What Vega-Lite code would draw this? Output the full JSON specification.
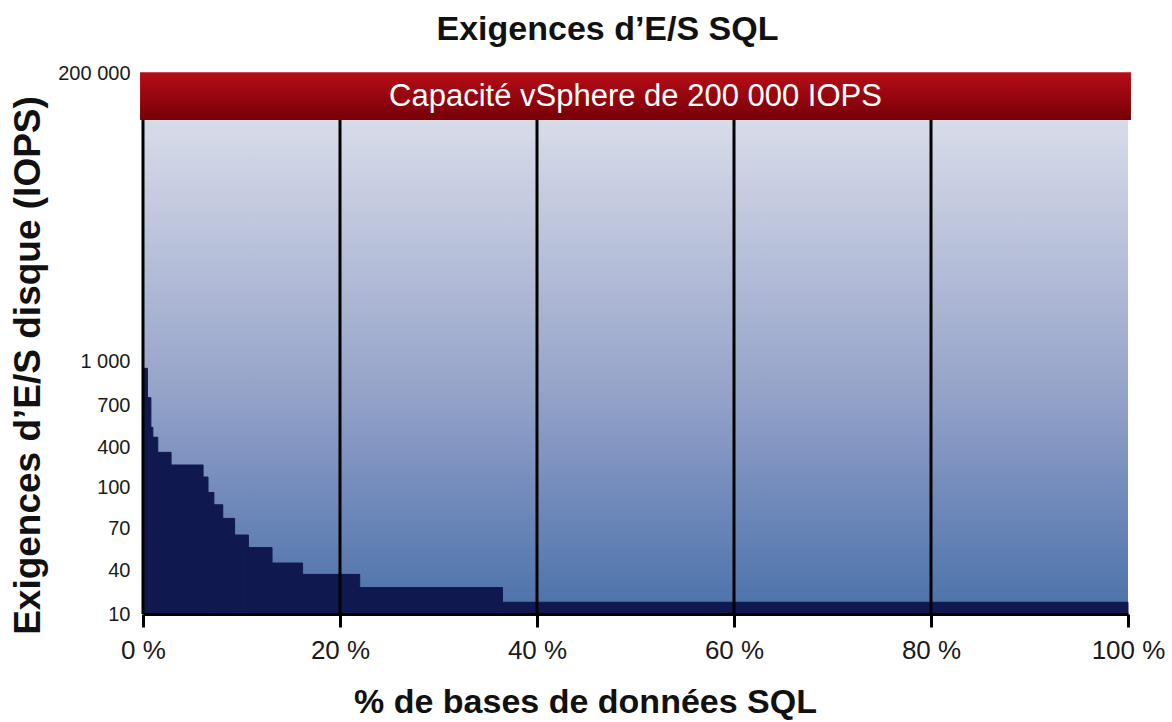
{
  "$schema": "https://vega.github.io/schema/vega-lite/v6.json",
  "width": 985,
  "height": 541,
  "autosize": {"type": "none"},
  "padding": {"left": 143, "top": 73, "right": 44, "bottom": 108},
  "background": "white",
  "config": {"view": {"stroke": null}, "font": "Liberation Sans"},
  "title": {
    "text": "Exigences d’E/S SQL",
    "fontSize": 34,
    "fontWeight": "bold",
    "font": "Liberation Sans",
    "color": "#111111",
    "anchor": "middle",
    "dx": -28,
    "offset": 16
  },
  "datasets": {
    "steps": [
      {"start": 0.0, "end": 0.45, "iops": 950},
      {"start": 0.45, "end": 0.8, "iops": 750},
      {"start": 0.8, "end": 1.0, "iops": 540},
      {"start": 1.0, "end": 1.5, "iops": 470},
      {"start": 1.5, "end": 2.85, "iops": 360},
      {"start": 2.85, "end": 6.1, "iops": 265},
      {"start": 6.1, "end": 6.6, "iops": 175},
      {"start": 6.6, "end": 7.2, "iops": 96},
      {"start": 7.2, "end": 8.1, "iops": 87},
      {"start": 8.1, "end": 9.3, "iops": 77},
      {"start": 9.3, "end": 10.7, "iops": 65},
      {"start": 10.7, "end": 13.1, "iops": 56},
      {"start": 13.1, "end": 16.2, "iops": 45},
      {"start": 16.2, "end": 22.0, "iops": 37},
      {"start": 22.0, "end": 36.5, "iops": 28},
      {"start": 36.5, "end": 100.0, "iops": 18}
    ],
    "lines": [{"pct": 0}, {"pct": 20}, {"pct": 40}, {"pct": 60}, {"pct": 80}]
  },
  "layer": [
    {
      "data": {"values": [{}]},
      "mark": {
        "type": "rect",
        "color": {
          "gradient": "linear",
          "x1": 0, "y1": 0, "x2": 0, "y2": 1,
          "stops": [
            {"offset": 0, "color": "#d8dce9"},
            {"offset": 0.3, "color": "#b4bdd8"},
            {"offset": 0.55, "color": "#95a3c9"},
            {"offset": 0.8, "color": "#6b86b8"},
            {"offset": 1, "color": "#4a72a8"}
          ]
        }
      },
      "encoding": {
        "x": {"datum": 0, "type": "quantitative"},
        "x2": {"datum": 100},
        "y": {"datum": 10, "type": "quantitative"},
        "y2": {"datum": 167500}
      }
    },
    {
      "data": {"name": "steps"},
      "mark": {"type": "rect", "color": "#10194f", "stroke": "#10194f", "strokeWidth": 1},
      "encoding": {
        "x": {
          "field": "start",
          "type": "quantitative",
          "scale": {"domain": [0, 100], "nice": false, "zero": false},
          "axis": {
            "values": [0, 20, 40, 60, 80, 100],
            "labelExpr": "datum.value + ' %'",
            "labelFlush": false,
            "labelFontSize": 26,
            "labelColor": "#1a1a1a",
            "labelPadding": 10,
            "tickSize": 13,
            "tickWidth": 3,
            "tickColor": "#000000",
            "domainColor": "#000000",
            "domainWidth": 3,
            "grid": false,
            "zindex": 1,
            "title": "% de bases de données SQL",
            "titleFontSize": 34,
            "titleFontWeight": "bold",
            "titleColor": "#111111",
            "titleX": 442,
            "titleY": 88,
            "titleBaseline": "middle"
          }
        },
        "x2": {"field": "end"},
        "y": {
          "field": "iops",
          "type": "quantitative",
          "scale": {
            "domain": [10, 40, 70, 100, 400, 700, 1000, 200000],
            "range": [541, 497, 455, 414, 374, 332, 288, 0],
            "nice": false,
            "zero": false
          },
          "axis": {
            "values": [10, 40, 70, 100, 400, 700, 1000, 200000],
            "labelExpr": "datum.value == 200000 ? '200 000' : datum.value == 1000 ? '1 000' : datum.label",
            "labelFlush": false,
            "labelFontSize": 20,
            "labelColor": "#1a1a1a",
            "labelPadding": 13,
            "ticks": false,
            "domain": false,
            "grid": false,
            "title": "Exigences d’E/S disque (IOPS)",
            "titleFontSize": 37,
            "titleFontWeight": "bold",
            "titleColor": "#111111",
            "titleAngle": -90,
            "titleX": -115,
            "titleY": 292,
            "titleBaseline": "middle",
            "titleAlign": "center"
          }
        },
        "y2": {"datum": 10}
      }
    },
    {
      "data": {"name": "lines"},
      "mark": {"type": "rule", "color": "#000000", "strokeWidth": 3},
      "encoding": {
        "x": {"field": "pct", "type": "quantitative"},
        "y": {"datum": 10, "type": "quantitative"},
        "y2": {"datum": 200000}
      }
    },
    {
      "data": {"values": [{}]},
      "mark": {
        "type": "rect",
        "color": {
          "gradient": "linear",
          "x1": 0, "y1": 0, "x2": 0, "y2": 1,
          "stops": [
            {"offset": 0, "color": "#b70d18"},
            {"offset": 1, "color": "#760007"}
          ]
        }
      },
      "encoding": {
        "x": {"datum": -0.3, "type": "quantitative"},
        "x2": {"datum": 100.3},
        "y": {"datum": 167500, "type": "quantitative"},
        "y2": {"datum": 200500}
      }
    },
    {
      "data": {"values": [{}]},
      "mark": {
        "type": "text",
        "text": "Capacité vSphere de 200 000 IOPS",
        "color": "#ffffff",
        "fontSize": 31,
        "font": "Liberation Sans",
        "align": "center",
        "baseline": "middle"
      },
      "encoding": {
        "x": {"datum": 50, "type": "quantitative"},
        "y": {"datum": 183400, "type": "quantitative"}
      }
    }
  ]
}
